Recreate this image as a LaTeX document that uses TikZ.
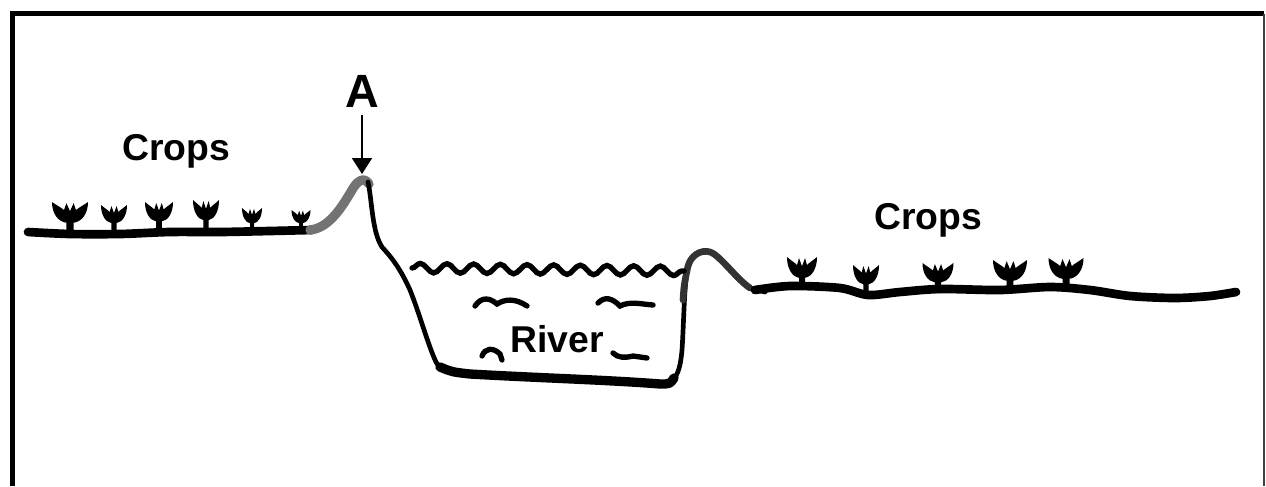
\documentclass[tikz,border=0pt]{standalone}
\usepackage{fontspec}
\setmainfont{Liberation Sans}
\usepackage{tikz}
\usetikzlibrary{arrows.meta,decorations.pathmorphing}

\begin{document}
\begin{tikzpicture}[x=0.75pt,y=0.75pt,yscale=-1,
  ground/.style={line width=6.5pt,line cap=round,line join=round},
  bank/.style={line width=3.5pt,line cap=round,line join=round},
  ripple/.style={line width=4pt,line cap=round},
  sprout/.style={fill=black},
  word/.style={font=\bfseries\fontsize{28}{32}\selectfont,inner sep=2pt,anchor=base}]
\useasboundingbox (0,0) rectangle (1266,486);
%边框
\draw[line width=3.75pt] (12.5,486) -- (12.5,13.5) -- (1263.5,13.5);
\draw[line width=1.5pt,black!75] (1263.5,13.5) -- (1263.5,486);
%左岸
\draw[ground] plot[smooth] coordinates {(28,232) (70,234) (120,234) (170,232) (220,232) (270,231) (312,230)};
\draw[ground,line width=7pt,black!55] (310,230) .. controls (330,228) and (343,205) .. (352,190) .. controls (357,181) and (364,176) .. (369,184);
%河床
\draw[bank] (368,182) .. controls (372,200) and (372,232) .. (382,247) .. controls (392,258) and (400,268) .. (410,290) .. controls (420,315) and (428,345) .. (436,362) .. controls (440,370) and (452,372) .. (470,374) .. controls (540,378) and (610,380) .. (660,384) .. controls (676,384) and (680,372) .. (682,350) .. controls (684,320) and (684,285) .. (688,266) .. controls (692,252) and (706,248) .. (714,254) .. controls (725,262) and (738,280) .. (750,288) -- (765,292);
\draw[bank,line width=5pt,black!80] (683,300) .. controls (684,285) .. (688,266) .. controls (692,252) and (706,248) .. (714,254) .. controls (725,262) and (738,280) .. (750,288);
\draw[ground,line width=7pt] (440,367) .. controls (452,372) .. (470,374) .. controls (540,378) and (610,380) .. (660,384) .. controls (670,384) .. (674,378);
%右岸
\draw[ground] plot[smooth] coordinates {(755,290) (790,286) (840,288) (868,295) (900,292) (940,289) (1000,290) (1050,287) (1090,290) (1130,296) (1175,298) (1210,296) (1236,292)};
%水面
\draw[ripple,decorate,decoration={snake,amplitude=3.5pt,segment length=20pt}] (412,268) -- (684,271);
\draw[ripple] (475,306) .. controls (482,296) and (490,298) .. (497,304) .. controls (505,299) and (515,298) .. (527,306);
\draw[ripple] (598,303) .. controls (605,296) and (612,298) .. (620,306) .. controls (630,301) and (640,304) .. (653,305);
\draw[ripple] (482,356) .. controls (485,348) and (493,347) .. (500,354) -- (502,360);
\draw[ripple] (613,353) .. controls (618,358) and (625,358) .. (633,356) -- (647,358);
%庄稼
\foreach \px/\py/\pw/\ph in {70/232/36/30, 114/231/26/26, 159/230/28/28, 206/229/26/29, 252/230/20/22, 301/229/19/19, 802/287/30/30, 866/293/26/28, 938/291/31/28, 1010/290/34/30, 1066/288/35/30}
  \fill[sprout,shift={(\px,\py)},xscale=\pw/30,yscale=\ph/26] (-3,2) -- (-3,-8) .. controls (-10,-9) and (-15,-16) .. (-15,-26) .. controls (-11,-23) and (-7,-21) .. (-5,-19) -- (-3,-25) -- (0,-18) -- (3,-25) -- (5,-19) .. controls (7,-21) and (11,-23) .. (15,-26) .. controls (15,-16) and (10,-9) .. (3,-8) -- (3,2) -- cycle;
%Text
\node[word] (cropsL) at (176,160) {Crops};
\node[word] (cropsR) at (928,229) {Crops};
\node[word] (river) at (557,352) {River};
\node[word,font=\bfseries\fontsize{35}{40}\selectfont] (A) at (362,107) {A};
\coordinate (peak) at (362,174);
\draw[line width=1.5pt,-{Triangle[length=12pt,width=15pt]},shorten <=4pt] (A) -- (peak);
\end{tikzpicture}
\end{document}
